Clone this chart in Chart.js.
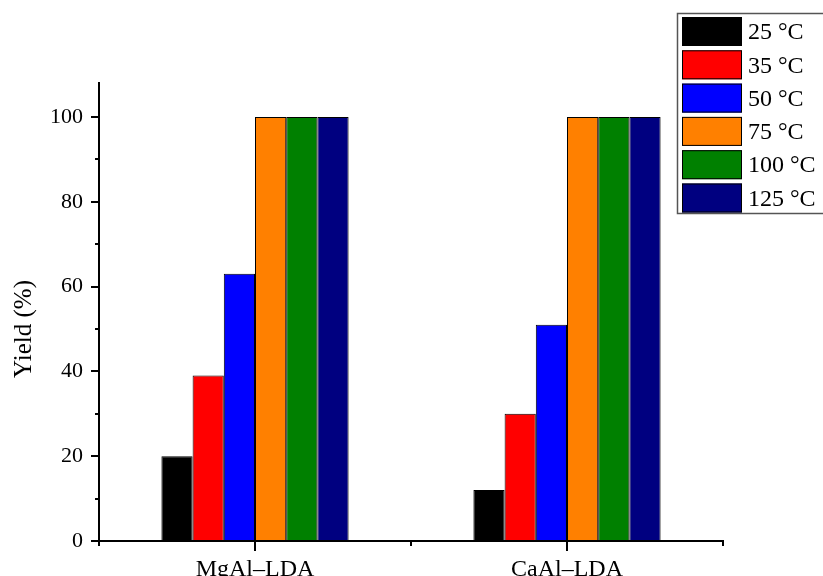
<!DOCTYPE html>
<html>
<head>
<meta charset="utf-8">
<script src="https://cdn.jsdelivr.net/npm/chart.js@4.4.0/dist/chart.umd.min.js"></script>
<style>
  html, body { margin: 0; padding: 0; background: #fff; }
  #wrap { width: 823px; height: 576px; position: relative; }
</style>
</head>
<body>
<div id="wrap"><canvas id="yieldChart"></canvas></div>
<script>
// data
const categories = ["MgAl\u2013LDA", "CaAl\u2013LDA"];
const seriesLabels = ["25 \u00b0C", "35 \u00b0C", "50 \u00b0C", "75 \u00b0C", "100 \u00b0C", "125 \u00b0C"];
const seriesColors = ["#000000", "#ff0000", "#0000ff", "#ff8000", "#008000", "#000080"];
const yield25 = [20, 12];
const yield35 = [39, 30];
const yield50 = [63, 51];
const yield75 = [100, 100];
const yield100 = [100, 100];
const yield125 = [100, 100];
const yMajorTicks = [0, 20, 40, 60, 80, 100];
const yMinorTicks = [10, 30, 50, 70, 90];
const yTitle = "Yield (%)";

const seriesValues = [yield25, yield35, yield50, yield75, yield100, yield125];
const font = "Liberation Serif";

// draws the origin-style tick marks, axis title and the boxed legend
const originTicks = {
  id: "originTicks",
  afterDraw(chart) {
    const ctx = chart.ctx;
    const x = chart.scales.x;
    const y = chart.scales.y;
    const area = chart.chartArea;
    ctx.save();
    ctx.strokeStyle = "#000";
    ctx.lineWidth = 2;
    ctx.beginPath();
    yMajorTicks.forEach(v => {
      const py = Math.round(y.getPixelForValue(v));
      ctx.moveTo(area.left - 8, py);
      ctx.lineTo(area.left, py);
    });
    yMinorTicks.forEach(v => {
      const py = Math.round(y.getPixelForValue(v));
      ctx.moveTo(area.left - 4, py);
      ctx.lineTo(area.left, py);
    });
    categories.forEach((c, i) => {
      const px = Math.round(x.getPixelForValue(i));
      ctx.moveTo(px, area.bottom);
      ctx.lineTo(px, area.bottom + 10);
    });
    for (let i = 0; i <= categories.length; i++) {
      const px = Math.round(x.getPixelForValue(i - 0.5));
      ctx.moveTo(px, area.bottom);
      ctx.lineTo(px, area.bottom + 5);
    }
    ctx.stroke();

    // y axis title, centred on the 0-100 range
    ctx.fillStyle = "#000";
    ctx.font = "25px '" + font + "'";
    ctx.textAlign = "center";
    ctx.textBaseline = "middle";
    ctx.translate(24, (y.getPixelForValue(0) + y.getPixelForValue(100)) / 2);
    ctx.rotate(-Math.PI / 2);
    ctx.fillText(yTitle, 0, 0);
    ctx.setTransform(1, 0, 0, 1, 0, 0);

    // legend box
    const lx = 677, ly = 13, rowH = 33.3;
    ctx.lineWidth = 1.5;
    ctx.strokeStyle = "#555";
    ctx.strokeRect(lx + 0.5, ly + 0.5, 160, 200);
    ctx.font = "24px '" + font + "'";
    ctx.textBaseline = "middle";
    ctx.textAlign = "left";
    chart.data.datasets.forEach((ds, i) => {
      const top = ly + 4 + i * rowH;
      ctx.fillStyle = ds.backgroundColor;
      ctx.fillRect(lx + 5, top, 60, 29);
      ctx.lineWidth = 1;
      ctx.strokeStyle = "#000";
      ctx.strokeRect(lx + 5.5, top + 0.5, 59, 28);
      ctx.fillStyle = "#000";
      ctx.fillText(ds.label, lx + 71, top + 16);
    });
    ctx.restore();
  }
};

new Chart(document.getElementById("yieldChart"), {
  type: "bar",
  data: {
    labels: categories,
    datasets: seriesLabels.map((label, i) => ({
      label: label,
      data: seriesValues[i],
      backgroundColor: seriesColors[i],
      borderColor: "#000",
      borderWidth: 1,
      borderSkipped: false,
      categoryPercentage: 0.6,
      barPercentage: 1.0
    }))
  },
  options: {
    responsive: true,
    maintainAspectRatio: false,
    animation: false,
    layout: { padding: { top: 83, right: 100, left: 0, bottom: 0 } },
    plugins: {
      legend: { display: false },
      tooltip: { enabled: false }
    },
    scales: {
      x: {
        grid: { display: false },
        border: { display: true, color: "#000", width: 2 },
        ticks: { color: "#000", font: { family: font, size: 24 }, padding: 6, maxRotation: 0 },
        afterFit(scale) { scale.height = 35; }
      },
      y: {
        min: 0,
        max: 108,
        grid: { display: false },
        border: { display: true, color: "#000", width: 2 },
        afterBuildTicks(scale) { scale.ticks = yMajorTicks.map(v => ({ value: v })); },
        ticks: { color: "#000", font: { family: font, size: 22 }, padding: 8 },
        afterFit(scale) { scale.width = 99; }
      }
    }
  },
  plugins: [originTicks]
});
</script>
</body>
</html>
